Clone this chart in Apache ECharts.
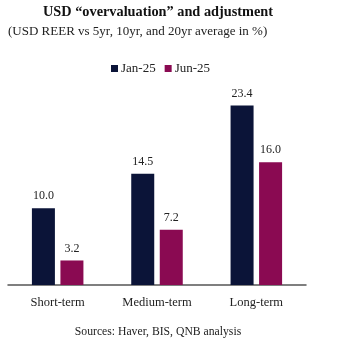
<!DOCTYPE html>
<html>
<head>
<meta charset="utf-8">
<script src="https://cdn.jsdelivr.net/npm/echarts@6/dist/echarts.min.js"></script>
<style>
  html, body { margin: 0; padding: 0; background: #fff; }
  #chart { width: 350px; height: 345px; }
</style>
</head>
<body>
<div id="chart"></div>
<script>
// Horizons over which the USD real effective exchange rate is compared
const categories = ['Short-term', 'Medium-term', 'Long-term'];
// Overvaluation (%) versus the 5yr, 10yr and 20yr averages
const jan25 = [10.0, 14.5, 23.4];
const jun25 = [3.2, 7.2, 16.0];
const seriesNames = ['Jan-25', 'Jun-25'];

const serif = '"Liberation Serif", "DejaVu Serif", serif';
const navy = '#0b1438';
const plum = '#8a0a52';

const chart = echarts.init(document.getElementById('chart'));

const labelStyle = {
  show: true,
  position: 'top',
  distance: 6,
  fontFamily: serif,
  fontSize: 12,
  color: '#222',
  formatter: p => p.value.toFixed(1)
};

chart.setOption({
  animation: false,
  backgroundColor: '#fff',
  title: [
    {
      text: 'USD \u201covervaluation\u201d and adjustment',
      left: 153, top: 0, textAlign: 'center',
      textStyle: { fontFamily: serif, fontSize: 14.3, fontWeight: 'bold', color: '#111' }
    },
    {
      text: '(USD REER vs 5yr, 10yr, and 20yr average in %)',
      left: 3, top: 20,
      textStyle: { fontFamily: serif, fontSize: 13, fontWeight: 'normal', color: '#222' }
    },
    {
      text: 'Sources: Haver, BIS, QNB analysis',
      left: 153, top: 321, textAlign: 'center',
      textStyle: { fontFamily: serif, fontSize: 11.7, fontWeight: 'normal', color: '#222' }
    }
  ],
  legend: {
    data: seriesNames,
    left: 106, top: 57,
    itemWidth: 7, itemHeight: 7, itemGap: 9,
    icon: 'rect',
    textStyle: { fontFamily: serif, fontSize: 13, color: '#222', padding: [0, 0, 0, -2] }
  },
  grid: { left: 8, right: 44, top: 55, bottom: 60 },
  xAxis: {
    type: 'category',
    data: categories,
    axisLine: { lineStyle: { color: '#555', width: 1.5 } },
    axisTick: { show: false },
    axisLabel: { fontFamily: serif, fontSize: 12.5, color: '#222', margin: 11 }
  },
  yAxis: {
    type: 'value', min: 0, max: 30,
    show: false,
    splitLine: { show: false }
  },
  series: [
    {
      name: seriesNames[0], type: 'bar', data: jan25,
      barWidth: 23, barGap: '24%',
      itemStyle: { color: navy },
      label: labelStyle
    },
    {
      name: seriesNames[1], type: 'bar', data: jun25,
      barWidth: 23,
      itemStyle: { color: plum },
      label: labelStyle
    }
  ]
});
</script>
</body>
</html>
